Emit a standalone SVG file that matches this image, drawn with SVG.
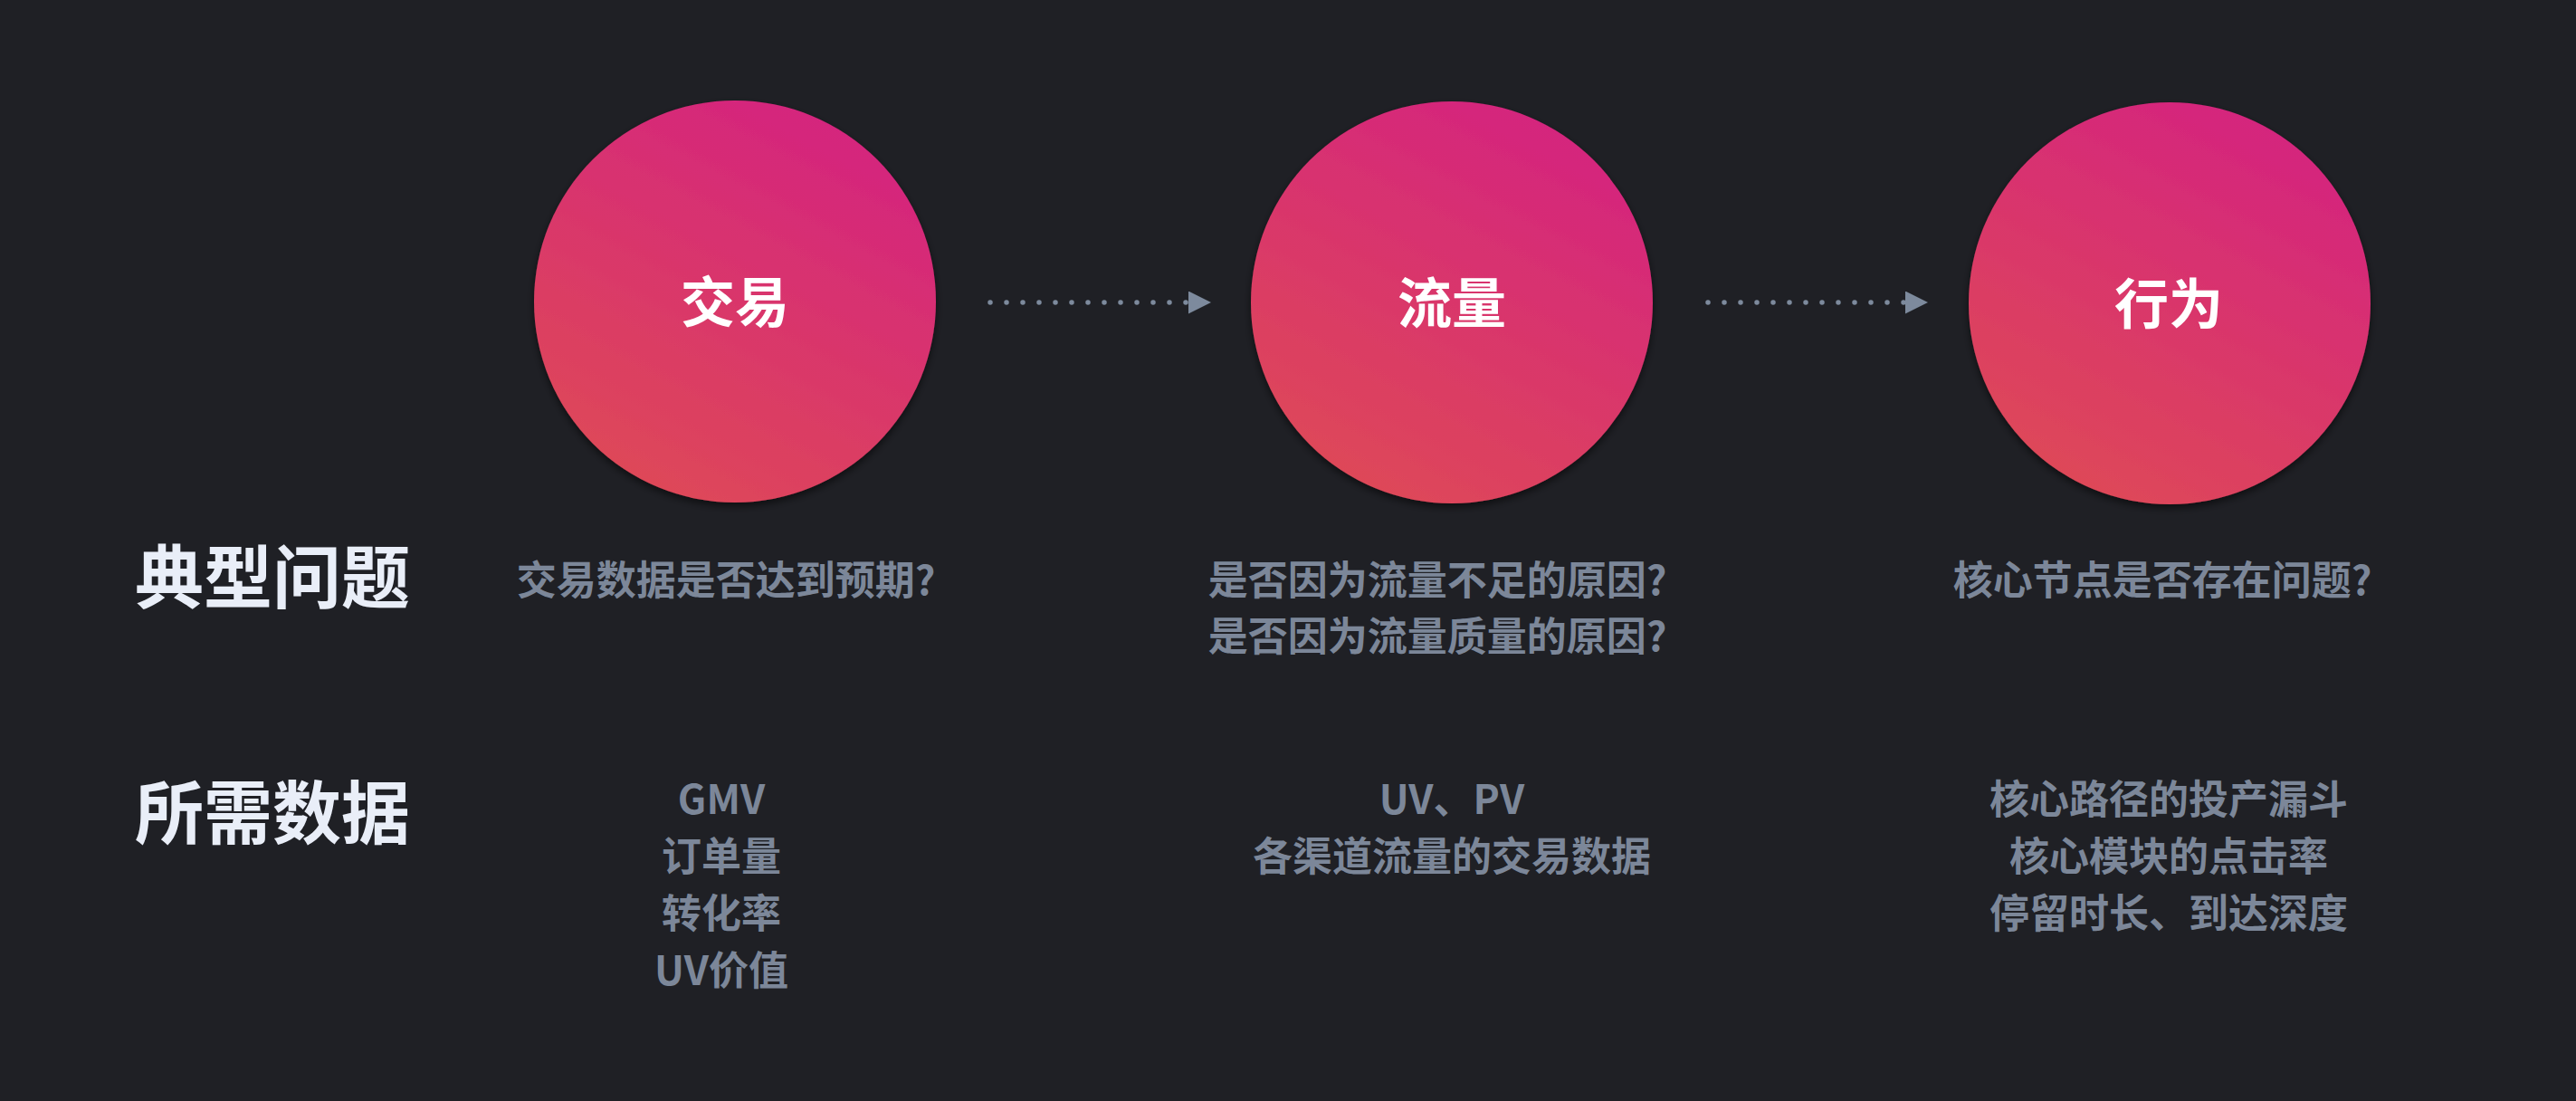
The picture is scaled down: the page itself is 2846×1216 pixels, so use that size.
<svg xmlns="http://www.w3.org/2000/svg" width="2846" height="1216" viewBox="0 0 2846 1216">
  <defs>
    <linearGradient id="circleGrad" x1="0.78" y1="0.03" x2="0.28" y2="0.97">
      <stop offset="0" stop-color="#d4237f"/>
      <stop offset="1" stop-color="#de4858"/>
    </linearGradient>
    <filter id="shadow" x="-20%" y="-20%" width="140%" height="140%">
      <feDropShadow dx="0" dy="4" stdDeviation="4" flood-color="#000000" flood-opacity="0.55"/>
    </filter>
    <marker id="arrowHead" markerUnits="userSpaceOnUse" markerWidth="26" markerHeight="26" refX="0" refY="12.5" orient="auto">
      <path d="M0,0 L25,12.5 L0,25 Z" fill="#7d8a9d"/>
    </marker>
    <style>
      .circle { fill: url(#circleGrad); filter: url(#shadow); }
      .circleLabel { font-family: "Noto Sans CJK SC", "Noto Sans", sans-serif; font-weight: 700; font-size: 60px; fill: #ffffff; text-anchor: middle; }
      .rowLabel { font-family: "Noto Sans CJK SC", "Noto Sans", sans-serif; font-weight: 700; font-size: 76px; fill: #e9eef8; }
      .info { font-family: "Noto Sans CJK SC", "Noto Sans", sans-serif; font-weight: 700; font-size: 44px; fill: #7c8799; text-anchor: middle; }
      .dots { fill: none; stroke: #7d8a9d; stroke-width: 5.5; stroke-linecap: round; stroke-dasharray: 0 18; }
    </style>
  </defs>

  <rect x="0" y="0" width="2846" height="1216" fill="#1f2025"/>

  <g id="connectors">
    <path class="dots" d="M1094,334 L1313,334" marker-end="url(#arrowHead)"/>
    <path class="dots" d="M1887,334 L2105,334" marker-end="url(#arrowHead)"/>
  </g>

  <g id="node-jiaoyi">
    <circle class="circle" cx="812" cy="333" r="222"/>
    <text class="circleLabel" x="812" y="356">交易</text>
  </g>
  <g id="node-liuliang">
    <circle class="circle" cx="1604" cy="334" r="222"/>
    <text class="circleLabel" x="1604" y="357">流量</text>
  </g>
  <g id="node-xingwei">
    <circle class="circle" cx="2397" cy="335" r="222"/>
    <text class="circleLabel" x="2396" y="358">行为</text>
  </g>

  <g id="row-labels">
    <text class="rowLabel" x="149" y="666">典型问题</text>
    <text class="rowLabel" x="149" y="926">所需数据</text>
  </g>

  <g id="questions">
    <text class="info" x="802" y="657">交易数据是否达到预期?</text>
    <text class="info" x="1588" y="657">是否因为流量不足的原因?</text>
    <text class="info" x="1588" y="719">是否因为流量质量的原因?</text>
    <text class="info" x="2389" y="657">核心节点是否存在问题?</text>
  </g>

  <g id="data">
    <text class="info" x="797" y="899">GMV</text>
    <text class="info" x="797" y="962">订单量</text>
    <text class="info" x="797" y="1025">转化率</text>
    <text class="info" x="797" y="1088">UV价值</text>
    <text class="info" x="1604" y="899">UV、PV</text>
    <text class="info" x="1604" y="962">各渠道流量的交易数据</text>
    <text class="info" x="2396" y="899">核心路径的投产漏斗</text>
    <text class="info" x="2396" y="962">核心模块的点击率</text>
    <text class="info" x="2396" y="1025">停留时长、到达深度</text>
  </g>
</svg>
